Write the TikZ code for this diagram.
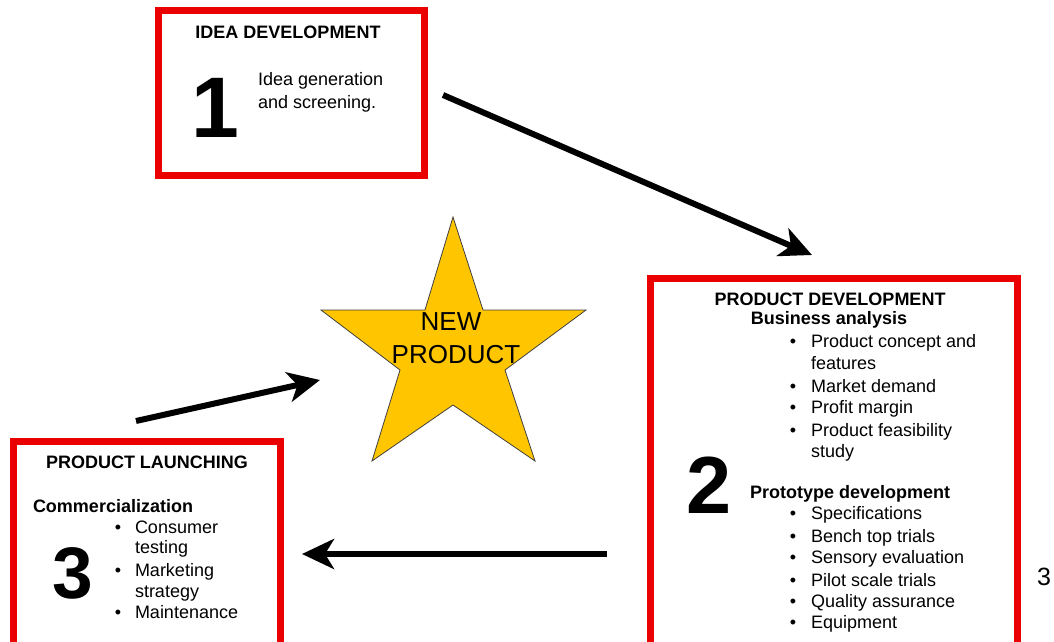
\documentclass[tikz,border=0pt]{standalone}
\usepackage{fontspec}
\setmainfont{Liberation Sans}
\usetikzlibrary{arrows.meta}
\definecolor{boxred}{RGB}{235,0,0}
\definecolor{stargold}{RGB}{255,198,0}
\tikzset{
  redbox/.style={draw=boxred, line width=7pt, fill=white, inner sep=0pt},
  txt/.style={inner sep=0pt, outer sep=0pt, font=\fontsize{18}{22}\selectfont},
  head/.style={txt, font=\fontsize{18}{22}\selectfont\bfseries, anchor=base},
  bigdigit/.style={inner sep=0pt, anchor=base},
  item/.style={txt, anchor=base west},
  bul/.style={txt, anchor=base},
  flow/.style={line width=6pt, -{Stealth[length=32pt,width=30pt,inset=9pt]}},
}
\begin{document}
\begin{tikzpicture}[x=1pt,y=-1pt]
\useasboundingbox (0,0) rectangle (1054,642);
\clip (0,0) rectangle (1054,642);

% boxes
\node[redbox, minimum width=266pt, minimum height=164pt] (box1) at (291,93) {};
\node[redbox, minimum width=367pt, minimum height=382pt] (box2) at (833.5,469) {};
\node[redbox, minimum width=267pt, minimum height=219pt] (box3) at (146.5,550.5) {};

% star
\draw[fill=stargold, draw=black!75, line width=0.8pt]
  (453,217) -- (483,310) -- (586,310) -- (505,370) -- (535,461) -- (453,405)
  -- (372,461) -- (400,370) -- (321,310) -- (425,310) -- cycle;
\node[txt, anchor=base, font=\fontsize{26}{30}\selectfont] (new) at (451,330) {NEW};
\node[txt, anchor=base, font=\fontsize{26}{30}\selectfont] (prod) at (456,363) {PRODUCT};

% box 1
\node[head] (h1) at (288,39) {IDEA DEVELOPMENT};
\node[bigdigit, font=\fontsize{86}{90}\selectfont\bfseries] (d1) at (215,137) {1};
\node[item] (i1a) at (258,85) {Idea generation};
\node[item] (i1b) at (258,108) {and screening.};

% box 2
\node[head] (h2) at (830,305) {PRODUCT DEVELOPMENT};
\node[head] (s2a) at (829,324) {Business analysis};
\node[bigdigit, font=\fontsize{81}{85}\selectfont\bfseries] (d2) at (709,513) {2};
\node[txt, anchor=base west, font=\fontsize{18}{22}\selectfont\bfseries] (s2b) at (750,498) {Prototype development};
\foreach \yy/\tt/\bb [count=\i] in {
  347/Product concept and/1, 369/features/0, 392/Market demand/1,
  413/Profit margin/1, 436/Product feasibility/1, 457/study/0,
  519/Specifications/1, 542/Bench top trials/1, 563/Sensory evaluation/1,
  586/Pilot scale trials/1, 607/Quality assurance/1, 628/Equipment/1}{
  \node[item] (p\i) at (811,\yy) {\tt};
  \ifnum\bb=1 \node[bul] (pb\i) at (793,\yy) {•};\fi
}

% box 3
\node[head] (h3) at (147,468) {PRODUCT LAUNCHING};
\node[txt, anchor=base west, font=\fontsize{18}{22}\selectfont\bfseries] (s3) at (33,512) {Commercialization};
\node[bigdigit, font=\fontsize{73}{77}\selectfont\bfseries] (d3) at (73,598) {3};
\foreach \yy/\tt/\bb [count=\i] in {
  533/Consumer/1, 553/testing/0, 576/Marketing/1, 597/strategy/0, 618/Maintenance/1}{
  \node[item] (l\i) at (135,\yy) {\tt};
  \ifnum\bb=1 \node[bul] (lb\i) at (118,\yy) {•};\fi
}

% page number
\node[txt, anchor=base, font=\fontsize{25}{28}\selectfont] (pg) at (1044,585) {3};

% arrows
\coordinate (a1s) at (443,95);
\coordinate (a1e) at (812,255);
\coordinate (a2s) at (607,554);
\coordinate (a2e) at (302,554);
\coordinate (a3s) at (136,421);
\coordinate (a3e) at (320,380);
\draw[flow] (a1s) -- (a1e);
\draw[flow] (a2s) -- (a2e);
\draw[flow] (a3s) -- (a3e);
\end{tikzpicture}
\end{document}
